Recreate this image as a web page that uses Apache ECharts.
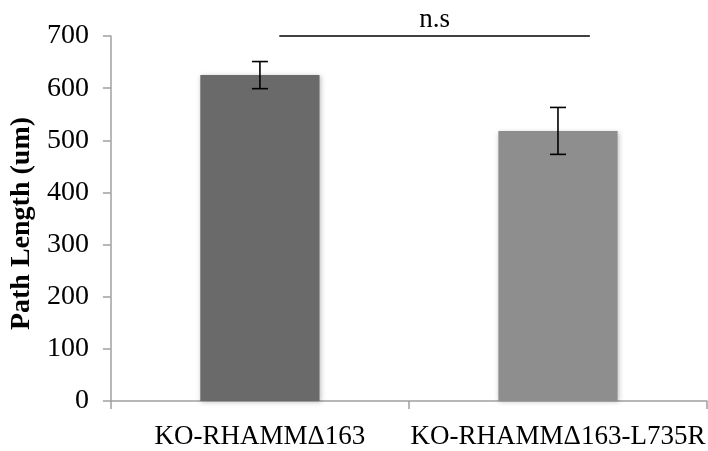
<!DOCTYPE html>
<html>
<head>
<meta charset="utf-8">
<script src="https://cdn.jsdelivr.net/npm/echarts@6/dist/echarts.min.js"></script>
<style>
  html, body { margin: 0; padding: 0; background: #ffffff; }
  #chart { width: 708px; height: 451px; }
</style>
</head>
<body>
<div id="chart"></div>
<script>
// Mean path length per construct, with standard error
const categories = ['KO-RHAMMΔ163', 'KO-RHAMMΔ163-L735R'];
const pathLength = [625, 518];
const errorHalf = [26, 45];
const barColors = ['#6a6a6a', '#8e8e8e'];

// Significance bracket between the two groups
const bracketPair = [0, 1];
const bracketLevel = 700;
const bracketLabel = 'n.s';

const yTicks = { min: 0, max: 700, interval: 100 };

const FONT = '"Liberation Serif", "Times New Roman", serif';

const chart = echarts.init(document.getElementById('chart'), null, { renderer: 'canvas' });

chart.setOption({
  animation: false,
  backgroundColor: '#ffffff',
  grid: { left: 108, right: 1, top: 36, bottom: 50, containLabel: false },
  xAxis: {
    type: 'category',
    data: categories,
    axisLine: { lineStyle: { color: '#a0a0a0', width: 1.5 } },
    axisTick: { show: true, alignWithLabel: false, length: 8, lineStyle: { color: '#a0a0a0', width: 1.5 } },
    axisLabel: { color: '#000', fontFamily: FONT, fontSize: 27, margin: 22, interval: 0 },
    splitLine: { show: false }
  },
  yAxis: {
    type: 'value',
    min: yTicks.min,
    max: yTicks.max,
    interval: yTicks.interval,
    name: 'Path Length (um)',
    nameLocation: 'middle',
    nameGap: 69,
    nameTextStyle: { color: '#000', fontFamily: FONT, fontSize: 28, fontWeight: 'bold', padding: [0, 10, 0, 0] },
    axisLine: { show: true, lineStyle: { color: '#a0a0a0', width: 1.5 } },
    axisTick: { show: true, length: 8, lineStyle: { color: '#a0a0a0', width: 1.5 } },
    axisLabel: { color: '#000', fontFamily: FONT, fontSize: 28, margin: 22 },
    splitLine: { show: false }
  },
  series: [
    {
      type: 'bar',
      barWidth: '40%',
      data: pathLength.map((v, i) => ({
        value: v,
        itemStyle: {
          color: barColors[i],
          shadowColor: 'rgba(0,0,0,0.25)',
          shadowBlur: 5,
          shadowOffsetX: 1,
          shadowOffsetY: 1
        }
      })),
      z: 2
    },
    {
      // error bars: vertical stem with horizontal caps
      type: 'custom',
      z: 5,
      data: pathLength.map((v, i) => [i, v - errorHalf[i], v + errorHalf[i]]),
      renderItem: function (params, api) {
        const x = api.value(0);
        const lo = api.coord([x, api.value(1)]);
        const hi = api.coord([x, api.value(2)]);
        const cap = 8;
        const style = { stroke: '#000', lineWidth: 1.6 };
        return {
          type: 'group',
          children: [
            { type: 'line', shape: { x1: lo[0], y1: lo[1], x2: hi[0], y2: hi[1] }, style: style },
            { type: 'line', shape: { x1: lo[0] - cap, y1: lo[1], x2: lo[0] + cap, y2: lo[1] }, style: style },
            { type: 'line', shape: { x1: hi[0] - cap, y1: hi[1], x2: hi[0] + cap, y2: hi[1] }, style: style }
          ]
        };
      }
    },
    {
      // significance bracket with label
      type: 'custom',
      z: 6,
      clip: false,
      data: [[bracketPair[0], bracketPair[1], bracketLevel]],
      renderItem: function (params, api) {
        const band = api.size([1, 0])[0];
        const a = api.coord([api.value(0), api.value(2)]);
        const b = api.coord([api.value(1), api.value(2)]);
        const x1 = a[0] + band * 0.065;
        const x2 = b[0] + band * 0.107;
        const y = a[1];
        return {
          type: 'group',
          children: [
            { type: 'line', shape: { x1: x1, y1: y, x2: x2, y2: y }, style: { stroke: '#000', lineWidth: 1.6 } },
            {
              type: 'text',
              style: {
                text: bracketLabel,
                x: (x1 + x2) / 2,
                y: y - 3,
                align: 'center',
                verticalAlign: 'bottom',
                fill: '#000',
                font: '27px ' + FONT
              }
            }
          ]
        };
      }
    }
  ]
});
</script>
</body>
</html>
